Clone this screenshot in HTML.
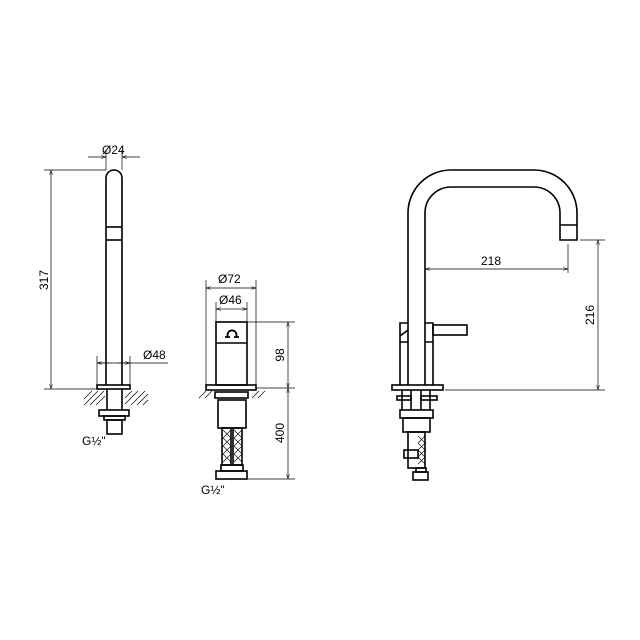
<!DOCTYPE html>
<html><head><style>html,body{margin:0;padding:0;background:#fff}svg{display:block}</style></head>
<body>
<svg width="640" height="640" viewBox="0 0 640 640" xmlns="http://www.w3.org/2000/svg" font-family="Liberation Sans, sans-serif">
<defs>
<marker id="a" viewBox="0 0 10 10" refX="10" refY="5" markerWidth="7" markerHeight="7" orient="auto-start-reverse"><path d="M0,2 L10,5 L0,8" fill="none" stroke="#000" stroke-width="1"/></marker>
</defs>
<g fill="none" stroke="#000" stroke-width="1.6">
<path d="M106,385 V178 A8,8 0 0 1 122,178 V385"/>
<line x1="106" y1="227" x2="122" y2="227"/><line x1="106" y1="240" x2="122" y2="240"/>
<rect x="97" y="385" width="33" height="4"/>
<line x1="107" y1="389" x2="107" y2="410"/><line x1="122" y1="389" x2="122" y2="410"/>
<rect x="99" y="410" width="30" height="6"/>
<rect x="104" y="416" width="21" height="4"/>
<rect x="107" y="420" width="15" height="14"/>
</g>
<g stroke="#000" stroke-width="0.7">
<path d="M84,405 L98,391 M90,405 L104,391 M96,405 L105,396 M84,399 L92,391 M125,398 L132,391 M125,404 L138,391 M131,405 L145,391 M137,405 L148,394 M143,405 L148,400"/>
<line x1="106" y1="170" x2="106" y2="150"/><line x1="122" y1="170" x2="122" y2="150"/>
<line x1="88" y1="157" x2="106" y2="157" marker-end="url(#a)"/><line x1="140" y1="157" x2="122" y2="157" marker-end="url(#a)"/>
<line x1="44" y1="170" x2="106" y2="170"/><line x1="44" y1="389" x2="97" y2="389"/>
<line x1="51" y1="280" x2="51" y2="170" marker-end="url(#a)"/><line x1="51" y1="280" x2="51" y2="389" marker-end="url(#a)"/>
<line x1="97" y1="356" x2="97" y2="385"/><line x1="130" y1="356" x2="130" y2="385"/>
<line x1="97" y1="363" x2="168" y2="363"/>
<line x1="110" y1="363" x2="97" y2="363" marker-end="url(#a)"/><line x1="118" y1="363" x2="130" y2="363" marker-end="url(#a)"/>
</g>
<g font-size="12" fill="#000">
<text x="102" y="154">Ø24</text>
<text x="143" y="359">Ø48</text>
<text x="82" y="445">G½"</text>
<text transform="translate(48,280) rotate(-90)" text-anchor="middle">317</text>
</g>
<g fill="none" stroke="#000" stroke-width="1.6">
<rect x="216" y="322" width="31" height="63"/>
<line x1="216" y1="343" x2="247" y2="343"/>
<rect x="206" y="385" width="50" height="5"/>
<rect x="215" y="392" width="33" height="6"/>
<rect x="218" y="400" width="28" height="28"/>
<rect x="222" y="428" width="9" height="37"/><rect x="233" y="428" width="9" height="37"/>
<rect x="221" y="465" width="22" height="6"/>
<rect x="216" y="471" width="31" height="8"/>
</g>
<path d="M228,337 a4.5,4.5 0 1 1 8,0 M225,337 h5 M234,337 h5" fill="none" stroke="#000" stroke-width="1.8"/>
<g stroke="#000" stroke-width="0.6">
<path d="M223,430 l8,8 M223,438 l8,8 M223,446 l8,8 M223,454 l8,8 M231,430 l-8,8 M231,438 l-8,8 M231,446 l-8,8 M231,454 l-8,8"/>
<path d="M234,430 l8,8 M234,438 l8,8 M234,446 l8,8 M234,454 l8,8 M242,430 l-8,8 M242,438 l-8,8 M242,446 l-8,8 M242,454 l-8,8"/>
</g>
<g stroke="#000" stroke-width="0.7">
<path d="M199,398 l7,-7 M205,398 l7,-7 M252,398 l7,-7 M258,398 l7,-7"/>
<line x1="206" y1="280" x2="206" y2="385"/><line x1="256" y1="280" x2="256" y2="385"/>
<line x1="216" y1="302" x2="216" y2="322"/><line x1="247" y1="302" x2="247" y2="322"/>
<line x1="230" y1="288" x2="206" y2="288" marker-end="url(#a)"/><line x1="230" y1="288" x2="256" y2="288" marker-end="url(#a)"/>
<line x1="231" y1="309" x2="216" y2="309" marker-end="url(#a)"/><line x1="231" y1="309" x2="247" y2="309" marker-end="url(#a)"/>
<line x1="247" y1="322" x2="295" y2="322"/><line x1="256" y1="388" x2="295" y2="388"/><line x1="247" y1="479" x2="295" y2="479"/>
<line x1="288" y1="355" x2="288" y2="322" marker-end="url(#a)"/><line x1="288" y1="355" x2="288" y2="388" marker-end="url(#a)"/>
<line x1="288" y1="430" x2="288" y2="388" marker-end="url(#a)"/><line x1="288" y1="430" x2="288" y2="479" marker-end="url(#a)"/>
</g>
<g font-size="12" fill="#000">
<text x="218" y="283">Ø72</text>
<text x="219" y="304">Ø46</text>
<text x="201" y="494">G½"</text>
<text transform="translate(284,355) rotate(-90)" text-anchor="middle">98</text>
<text transform="translate(284,433) rotate(-90)" text-anchor="middle">400</text>
</g>
<g fill="none" stroke="#000" stroke-width="1.6">
<path d="M408,385 V213 A43,43 0 0 1 451,170 H534 A43,43 0 0 1 577,213 V240 H560 V213 A26,26 0 0 0 534,187 H451 A26,26 0 0 0 425,213 V385"/>
<line x1="560" y1="225" x2="577" y2="225"/>
<path d="M400,385 V342 H408 M400,342 V323 H408 M425,323 H433 V342 H425 M433,342 V385"/>
<path d="M400,336 L408,330"/>
<rect x="433" y="325" width="34" height="10"/>
<rect x="392" y="385" width="51" height="5"/>
<line x1="402" y1="390" x2="402" y2="410"/><line x1="430" y1="390" x2="430" y2="410"/>
<line x1="411" y1="390" x2="411" y2="410"/><line x1="421" y1="390" x2="421" y2="410"/>
<rect x="397" y="396" width="14" height="4"/><rect x="421" y="396" width="16" height="4"/>
<rect x="400" y="410" width="33" height="8"/>
<rect x="403" y="418" width="27" height="14"/>
<rect x="408" y="432" width="17" height="36"/>
<rect x="404" y="450" width="14" height="8"/>
<rect x="416" y="468" width="10" height="4"/>
<rect x="413" y="472" width="15" height="8"/>
</g>
<g stroke="#000" stroke-width="0.6">
<path d="M418,436 l7,7 M418,443 l7,7 M418,450 l7,7 M418,457 l7,7 M425,436 l-7,7 M425,443 l-7,7 M425,450 l-7,7 M425,457 l-7,7"/>
</g>
<g stroke="#000" stroke-width="0.7">
<line x1="568" y1="244" x2="568" y2="273"/>
<line x1="494" y1="269" x2="425" y2="269" marker-end="url(#a)"/><line x1="494" y1="269" x2="568" y2="269" marker-end="url(#a)"/>
<line x1="580" y1="240" x2="605" y2="240"/><line x1="445" y1="390" x2="605" y2="390"/>
<line x1="598" y1="315" x2="598" y2="240" marker-end="url(#a)"/><line x1="598" y1="315" x2="598" y2="390" marker-end="url(#a)"/>
</g>
<g font-size="12" fill="#000">
<text x="481" y="265">218</text>
<text transform="translate(594,315) rotate(-90)" text-anchor="middle">216</text>
</g>
</svg>
</body></html>
